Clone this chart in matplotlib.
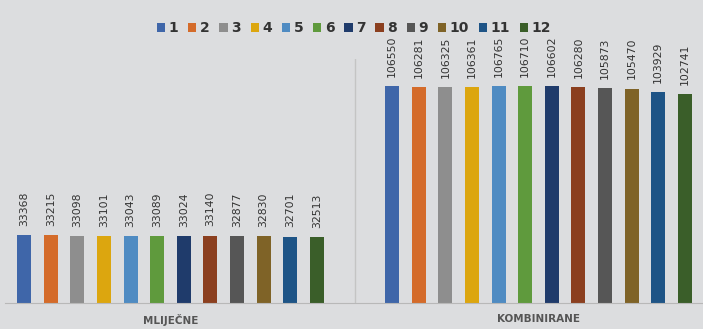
import numpy as np
import matplotlib.pyplot as plt

# mjesečne vrijednosti po kategoriji
categories = ["MLIJEČNE", "KOMBINIRANE"]
months = ["1", "2", "3", "4", "5", "6", "7", "8", "9", "10", "11", "12"]
mlijecne = [33368, 33215, 33098, 33101, 33043, 33089, 33024, 33140, 32877, 32830, 32701, 32513]
kombinirane = [106550, 106281, 106325, 106361, 106765, 106710, 106602, 106280, 105873, 105470, 103929, 102741]

colors = ["#3f66a9", "#d46b2a", "#8e8e8e", "#dca60f", "#4f8bc2", "#5f9a3d",
          "#1f3b6b", "#8b3f1f", "#565656", "#7f6327", "#1e5486", "#3a5e29"]

bg = "#dcdddf"
fig = plt.figure(figsize=(7.03, 3.29), dpi=100, facecolor=bg)
ax = fig.add_axes([5 / 703, 26 / 329, 698 / 703, 244 / 329], facecolor=bg)

step = 26.6 / 368
width = 14 / 368
values = [mlijecne, kombinirane]
for i, m in enumerate(months):
    xs = [c + (i - 5.5) * step for c in range(len(categories))]
    ys = [v[i] for v in values]
    ax.bar(xs, ys, width=width, color=colors[i], label=m, zorder=2)
    for x, y in zip(xs, ys):
        ax.text(x, y + 4500, f"{y}", rotation=90, ha="center", va="bottom",
                fontsize=7.8, color="#333333")

ax.set_xlim((5 - 170.5) / 368, (703 - 170.5) / 368)
ax.set_ylim(0, 120000)
for s in ["top", "right", "left"]:
    ax.spines[s].set_visible(False)
ax.spines["bottom"].set_color("#b8b8b8")
ax.axvline(0.5, color="#c4c4c4", linewidth=1, zorder=1)
ax.set_yticks([])
ax.set_xticks(range(len(categories)))
ax.set_xticklabels(categories, fontsize=7.5, fontweight="bold", color="#555555")
ax.tick_params(axis="x", length=0, pad=8)

ax.legend(loc="upper center", bbox_to_anchor=(0.5, 1.205), ncol=12, frameon=False,
          prop={"size": 10, "weight": "bold"}, handlelength=0.6, handleheight=0.6,
          handletextpad=0.25, columnspacing=0.7, labelcolor="#333333")

fig.savefig("out.png", dpi=100, facecolor=bg)
